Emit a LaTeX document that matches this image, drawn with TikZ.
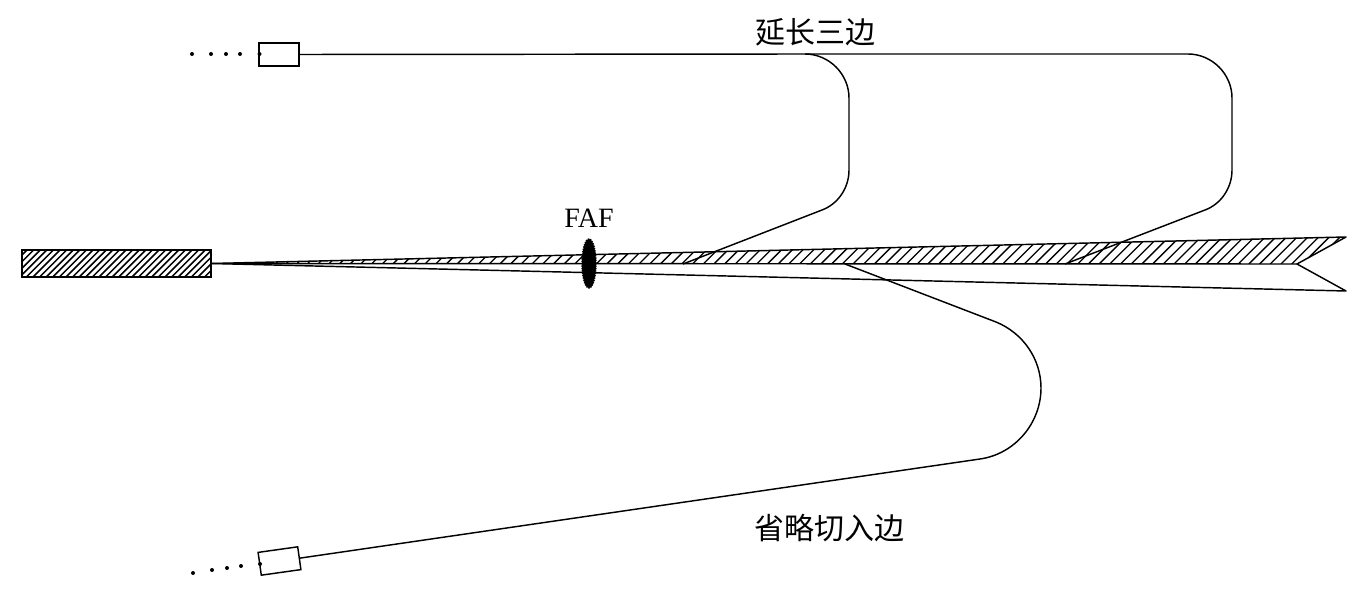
\documentclass[tikz,border=0pt]{standalone}
\usepackage{fontspec}
\setmainfont{Liberation Serif}
\newfontfamily\cjk{Noto Sans CJK SC}
\usetikzlibrary{shapes.geometric}
\tikzset{
  lnk/.style={draw=black,line width=1.45pt,line join=round},
  plainbox/.style={draw=black,line width=1.45pt,fill=white,minimum width=40pt,minimum height=23pt,inner sep=0pt,outer sep=0pt},
  hatchline/.style={draw=black,line width=1.3pt},
  spot/.style={circle,fill=black,inner sep=0pt,minimum size=4pt},
  lab/.style={inner sep=0pt,font=\cjk\fontsize{30}{32}\selectfont}
}
\begin{document}
\begin{tikzpicture}[x=1pt,y=-1pt]
\useasboundingbox (0,0) rectangle (1370,604);
% hatched runway
\begin{scope}
  \clip (22,250) rectangle (211,277);
  \foreach \i in {0,...,36}{
    \draw[hatchline,line width=1.5pt] (\i*6.6,277) -- ++(32,-32);
  }
\end{scope}
\node[draw=black,line width=1.45pt,minimum width=189pt,minimum height=27pt,inner sep=0pt,outer sep=0pt] (runway) at (116.5,263.5) {};
% wedge
\coordinate (apex) at (runway.east);
\coordinate (tipT) at (1346,237);
\coordinate (tipB) at (1346,291);
\coordinate (notch) at (1297,264);
\begin{scope}
  \clip (apex) -- (tipT) -- (notch) -- cycle;
  \foreach \i in {0,...,108}{
    \draw[hatchline] (211+\i*10.7,264) -- ++(30,-30);
  }
\end{scope}
\draw[lnk] (apex) -- (tipT) -- (notch) -- (tipB) -- (apex);
\draw[lnk] (apex) -- (notch);
% FAF
\node[ellipse,fill=black,draw=black,densely dotted,line width=1.4pt,minimum width=14pt,minimum height=49pt,inner sep=0pt] (fafmark) at (589,263.5) {};
\node[inner sep=0pt,font=\fontsize{28}{30}\selectfont] (faf) at (589,218) {FAF};
% boxes
\node[plainbox] (topbox) at (279,54.5) {};
\node[plainbox,rotate=8] (botbox) at (279.5,561) {};
% dots
\node[spot] (t1) at (192,54) {};
\node[spot] (t2) at (211,54) {};
\node[spot] (t3) at (226,54) {};
\node[spot] (t4) at (240,54) {};
\node[spot] (t5) at (259.5,54) {};
\node[spot] (b1) at (193,573) {};
\node[spot] (b2) at (212,570) {};
\node[spot] (b3) at (227,568) {};
\node[spot] (b4) at (241,566) {};
\node[spot] (b5) at (260,564) {};
% tracks
\coordinate (fork) at (805,54);
\coordinate (endA) at (683,264);
\coordinate (endB) at (1065,264);
\coordinate (endC) at (845,264);
\draw[lnk] (topbox.east) -- (fork) .. controls (829,54) and (849,74) .. (849,98) -- (849,170)
  .. controls (849,188) and (838,204) .. (822,210) -- (endA);
\draw[lnk] (fork) -- (1188,54) .. controls (1212,54) and (1232,74) .. (1232,98) -- (1232,170)
  .. controls (1232,188) and (1221,204) .. (1205,210) -- (endB);
\draw[lnk] (endC) -- (996,322) .. controls (1023,333) and (1041,359) .. (1041,388)
  .. controls (1041,423) and (1015,454) .. (980,459) -- (botbox.east);
% labels
\node[lab] (l1) at (815,32) {延长三边};
\node[lab] (l2) at (829,528) {省略切入边};
\end{tikzpicture}
\end{document}
